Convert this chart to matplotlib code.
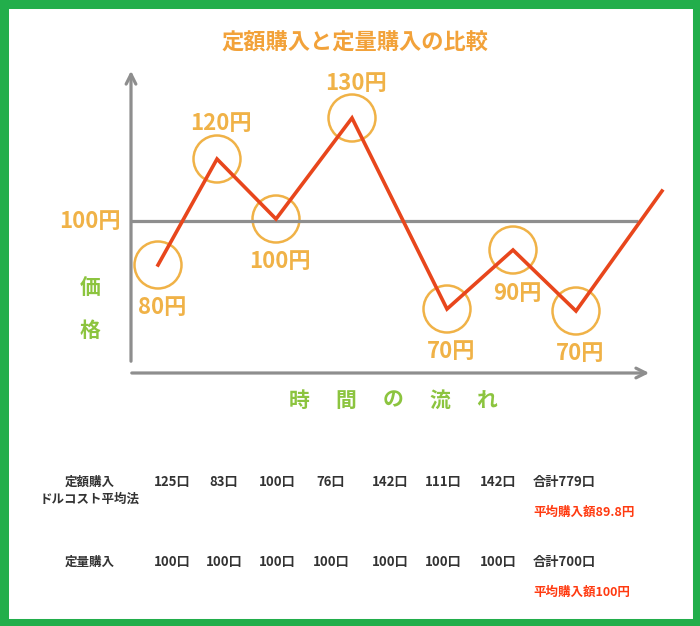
import matplotlib.pyplot as plt
from matplotlib.patches import Circle, Rectangle

plt.rcParams['font.family'] = ['Noto Sans CJK JP', 'DejaVu Sans']

# 価格の推移（図から読み取った位置）
time_pos = [158, 217, 276, 352, 447, 513, 576, 662]
level_pos = [265, 159, 219, 118, 309, 250, 311, 191]
prices = [80, 120, 100, 130, 70, 90, 70]
label_side = ['below', 'above', 'below', 'above', 'below', 'below', 'below']
base_price = 100
base_level = 221

# 表のデータ
row_names = ['定額購入\nドルコスト平均法', '定量購入']
units_fixed_amount = [125, 83, 100, 76, 142, 111, 142]
units_fixed_qty = [100, 100, 100, 100, 100, 100, 100]
totals = ['合計779口', '合計700口']
averages = ['平均購入額89.8円', '平均購入額100円']

orange = '#f0b247'
red = '#e8461c'
gray = '#8e8e8e'
green = '#8cc43f'

fig = plt.figure(figsize=(7, 6.26), dpi=100)
ax = fig.add_axes([0, 0, 1, 1])
ax.set_xlim(0, 700)
ax.set_ylim(626, 0)
ax.axis('off')

# 外枠
ax.add_patch(Rectangle((3.5, 3.5), 693, 619, fill=False, edgecolor='#22ae4b', lw=6.5))

ax.text(355, 43, '定額購入と定量購入の比較', color='#f2a23a', fontsize=16,
        fontweight='bold', ha='center', va='center')

# 軸
ax.annotate('', xy=(131, 68), xytext=(131, 364),
            arrowprops=dict(arrowstyle='->,head_length=0.7,head_width=0.35', color=gray, lw=2.3))
ax.annotate('', xy=(652, 373), xytext=(129, 373),
            arrowprops=dict(arrowstyle='->,head_length=0.7,head_width=0.35', color=gray, lw=2.3))
ax.plot([131, 638], [base_level, base_level], color=gray, lw=2.3, solid_capstyle='butt')
ax.text(90, base_level, f'{base_price}円', color=orange, fontsize=16, fontweight='bold',
        ha='center', va='center')

ax.text(90, 288, '価', color=green, fontsize=15, fontweight='bold', ha='center', va='center')
ax.text(90, 330, '格', color=green, fontsize=15, fontweight='bold', ha='center', va='center')
for i, ch in enumerate('時間の流れ'):
    ax.text(299 + i * 47, 400, ch, color=green, fontsize=15, fontweight='bold',
            ha='center', va='center')

# 価格の折れ線
ax.plot(time_pos, level_pos, color=red, lw=2.6, solid_joinstyle='miter')
for x, y, p, side in zip(time_pos, level_pos, prices, label_side):
    ax.add_patch(Circle((x, y), 23.5, fill=False, edgecolor=orange, lw=1.8))
    dy = 43 if side == 'below' else -35
    ax.text(x + 4, y + dy, f'{p}円', color=orange, fontsize=16, fontweight='bold',
            ha='center', va='center')

# 表
col_x = [172, 224, 277, 331, 390, 443, 498]
row_y = [482, 562]
dark = '#333333'
for r, (name, units) in enumerate(zip(row_names, [units_fixed_amount, units_fixed_qty])):
    y = row_y[r]
    lines = name.split('\n')
    for k, ln in enumerate(lines):
        ax.text(90, y + k * 17, ln, color=dark, fontsize=9, fontweight='bold',
                ha='center', va='center')
    for x, u in zip(col_x, units):
        ax.text(x, y, f'{u}口', color=dark, fontsize=9.5, fontweight='bold',
                ha='center', va='center')
    ax.text(533, y, totals[r], color=dark, fontsize=9.5, fontweight='bold',
            ha='left', va='center')
    ax.text(533, y + 30, averages[r], color='#ff3a10', fontsize=9, fontweight='bold',
            ha='left', va='center')

fig.savefig('out.png', dpi=100)
